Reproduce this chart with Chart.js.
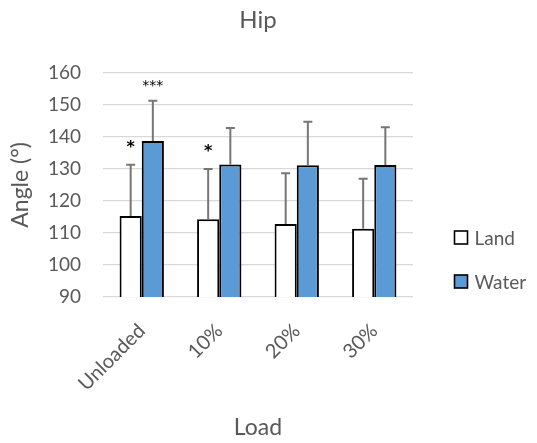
<!DOCTYPE html>
<html>
<head>
<meta charset="utf-8">
<script src="https://cdn.jsdelivr.net/npm/chart.js@4.4.0/dist/chart.umd.min.js"></script>
<style>
html,body{margin:0;padding:0;background:#fff;}
#wrap{width:537px;height:443px;position:relative;}
</style>
</head>
<body>
<div id="wrap"><canvas id="c"></canvas></div>
<script>
const categories = ["Unloaded", "10%", "20%", "30%"];
const landValues = [115.3, 114.3, 112.8, 111.3];
const landSD = [16.0, 15.7, 15.8, 15.6];
const waterValues = [138.7, 131.4, 131.1, 131.2];
const waterSD = [12.6, 11.4, 13.6, 11.8];
const landSig = ["*", "*", "", ""];
const waterSig = ["***", "", "", ""];
const yTicks = [90, 100, 110, 120, 130, 140, 150, 160];

const FONT = "Lato, 'Open Sans', sans-serif";
const TEXT = "#595959";

const errorBars = {
  id: 'errorBars',
  afterDatasetsDraw(chart) {
    const ctx = chart.ctx;
    const y = chart.scales.y;
    chart.data.datasets.forEach((ds, i) => {
      const meta = chart.getDatasetMeta(i);
      meta.data.forEach((bar, j) => {
        const top = y.getPixelForValue(ds.data[j] + ds.sd[j]);
        ctx.save();
        ctx.strokeStyle = "#767676";
        ctx.lineWidth = 2;
        ctx.beginPath();
        ctx.moveTo(bar.x, bar.y);
        ctx.lineTo(bar.x, top);
        ctx.moveTo(bar.x - 4.5, top);
        ctx.lineTo(bar.x + 4.5, top);
        ctx.stroke();
        const s = ds.sig[j];
        if (s) {
          ctx.fillStyle = "#000";
          ctx.textAlign = "center";
          ctx.textBaseline = "alphabetic";
          if (s.length > 1) {
            ctx.font = "14px 'DejaVu Sans'";
            ctx.fillText(s, bar.x, top - 10.5);
          } else {
            ctx.font = "bold 16px 'DejaVu Sans'";
            ctx.fillText(s, bar.x, top - 12.5);
          }
        }
        ctx.restore();
      });
    });
  }
};

const sideLegend = {
  id: 'sideLegend',
  afterDraw(chart) {
    const ctx = chart.ctx;
    const a = chart.chartArea;
    const x0 = a.right + 41.5;
    const ys = [a.bottom - 59.5, a.bottom - 15.5];
    chart.data.datasets.forEach((ds, i) => {
      const cy = ys[i];
      ctx.save();
      ctx.fillStyle = ds.backgroundColor;
      ctx.fillRect(x0, cy - 6.5, 13, 13);
      ctx.strokeStyle = "#000";
      ctx.lineWidth = 1.6;
      ctx.strokeRect(x0, cy - 6.5, 13, 13);
      ctx.fillStyle = TEXT;
      ctx.font = "19px " + FONT;
      ctx.textAlign = "left";
      ctx.textBaseline = "middle";
      ctx.fillText(ds.label, x0 + 20, cy + 1);
      ctx.restore();
    });
  }
};

new Chart(document.getElementById('c'), {
  type: 'bar',
  data: {
    labels: categories,
    datasets: [
      { label: "Land", data: landValues, sd: landSD, sig: landSig,
        backgroundColor: "#ffffff", borderColor: "#000000", borderWidth: 2 },
      { label: "Water", data: waterValues, sd: waterSD, sig: waterSig,
        backgroundColor: "#5b9bd5", borderColor: "#000000", borderWidth: 2 }
    ]
  },
  options: {
    responsive: true,
    maintainAspectRatio: false,
    animation: false,
    devicePixelRatio: 1,
    layout: { padding: { left: 0, right: 124, top: 0, bottom: 0 } },
    datasets: { bar: { categoryPercentage: 0.572, barPercentage: 1.0 } },
    plugins: {
      legend: { display: false },
      tooltip: { enabled: false },
      title: {
        display: true, text: "Hip", fullSize: false,
        color: TEXT, font: { family: FONT, size: 24, weight: 'normal' },
        padding: { top: 6, bottom: 38 }
      }
    },
    scales: {
      x: {
        grid: { display: false, drawTicks: false },
        border: { display: false },
        ticks: { color: TEXT, font: { family: FONT, size: 20 }, minRotation: 45, maxRotation: 45, padding: 22 },
        title: { display: true, text: "Load", color: TEXT, font: { family: FONT, size: 23 }, padding: { top: 0, bottom: 2 } },
        afterFit(s) { s.height = 146; }
      },
      y: {
        min: 90, max: 160,
        afterBuildTicks(s) { s.ticks = yTicks.map(v => ({ value: v })); },
        grid: { color: "#d9d9d9", lineWidth: 1.3, drawTicks: false },
        border: { display: false },
        ticks: { color: TEXT, font: { family: FONT, size: 19 }, padding: 22 },
        title: { display: true, text: "Angle (°)", color: TEXT, font: { family: FONT, size: 23 }, padding: { top: 7, bottom: 0 } },
        afterFit(s) { s.width = 103; }
      }
    }
  },
  plugins: [errorBars, sideLegend]
});
</script>
</body>
</html>
